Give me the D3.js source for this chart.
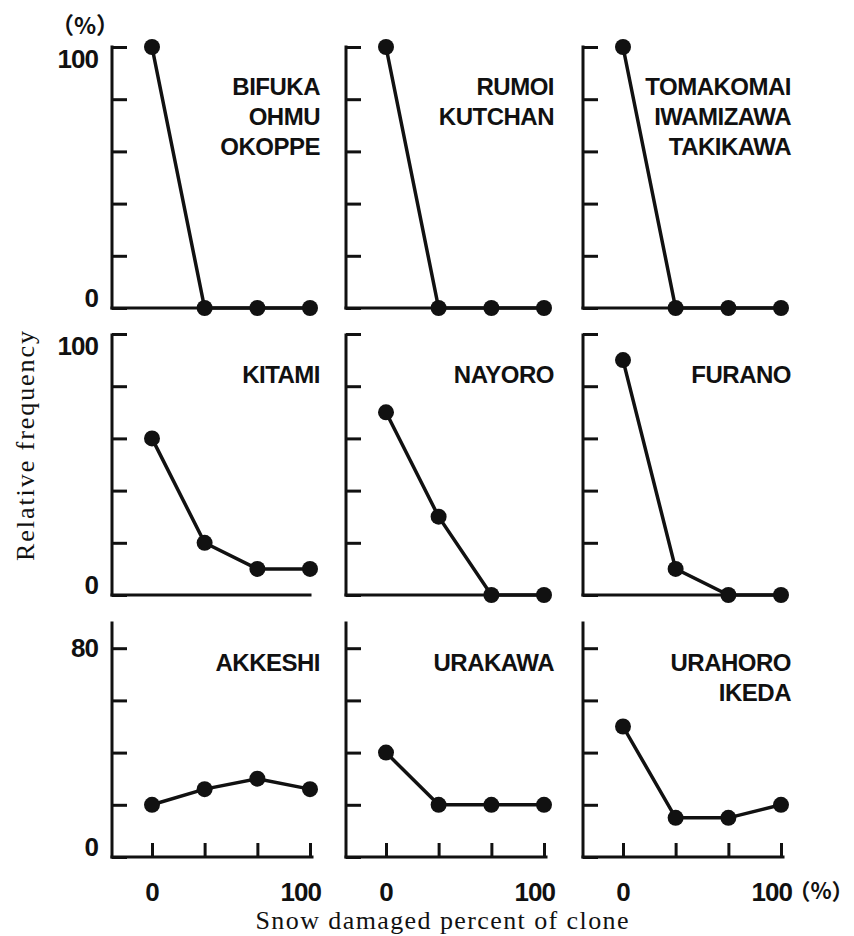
<!DOCTYPE html>
<html>
<head>
<meta charset="utf-8">
<script src="https://cdn.jsdelivr.net/npm/d3@7"></script>
<style>
  body { margin: 0; background: #fff; }
  text { fill: #111; }
</style>
</head>
<body>
<div id="chart"></div>
<script>
// damage classes (x positions of the four points), 0..100 %
const damageClasses = [0, 33.3, 66.7, 100];
const xTickLabels = [0, 100];

// panel titles, read row by row
const placeNames = [
  ["BIFUKA", "OHMU", "OKOPPE"],
  ["RUMOI", "KUTCHAN"],
  ["TOMAKOMAI", "IWAMIZAWA", "TAKIKAWA"],
  ["KITAMI"],
  ["NAYORO"],
  ["FURANO"],
  ["AKKESHI"],
  ["URAKAWA"],
  ["URAHORO", "IKEDA"]
];

// relative frequency (%) for each panel
const freqBifuka = [100, 0, 0, 0];
const freqRumoi = [100, 0, 0, 0];
const freqTomakomai = [100, 0, 0, 0];
const freqKitami = [60, 20, 10, 10];
const freqNayoro = [70, 30, 0, 0];
const freqFurano = [90, 10, 0, 0];
const freqAkkeshi = [20, 26, 30, 26];
const freqUrakawa = [40, 20, 20, 20];
const freqUrahoro = [50, 15, 15, 20];

const panelValues = [
  freqBifuka, freqRumoi, freqTomakomai,
  freqKitami, freqNayoro, freqFurano,
  freqAkkeshi, freqUrakawa, freqUrahoro
];

// y axis max per row and labelled ticks
const rowMax = [100, 100, 80];
const yTickLabels = [[0, 100], [0, 100], [0, 80]];

const width = 854, height = 936;

//layout of the grid
const axisX = [112, 346, 583];
const rowBottom = [308, 595, 857];
const rowTop = [47, 335, 623];
const pxPerUnit = 2.61;

const svg = d3.select("#chart")
  .append("svg")
  .attr("width", width)
  .attr("height", height)
  .style("background", "#fff");

const nameFont = "'Liberation Sans', Arial, sans-serif";

panelValues.forEach((vals, i) => {
  const row = Math.floor(i / 3), col = i % 3;
  const ax = axisX[col];

  const x = d3.scaleLinear().domain([0, 100]).range([ax + 40, ax + 198]);
  const y = d3.scaleLinear()
    .domain([0, rowMax[row]])
    .range([rowBottom[row], rowBottom[row] - rowMax[row] * pxPerUnit]);

  const g = svg.append("g");

  // y ticks pointing into the panel
  const yAxis = d3.axisRight(y)
    .tickValues(d3.range(0, rowMax[row] + 1, 20))
    .tickSize(15)
    .tickSizeOuter(0)
    .tickFormat("");
  const ya = g.append("g").attr("transform", `translate(${ax},0)`).call(yAxis);
  ya.select(".domain").remove();
  ya.selectAll("line").attr("stroke", "#111").attr("stroke-width", 3);

  // vertical axis line
  g.append("line")
    .attr("x1", ax).attr("x2", ax)
    .attr("y1", rowTop[row]).attr("y2", y(0))
    .attr("stroke", "#111").attr("stroke-width", 3)
    .attr("stroke-linecap", "square");

  // baseline
  g.append("line")
    .attr("x1", ax).attr("x2", x(100) + (row === 2 ? 2 : 0))
    .attr("y1", y(0)).attr("y2", y(0))
    .attr("stroke", "#111").attr("stroke-width", 3)
    .attr("stroke-linecap", "square");

  // x ticks only on the bottom row
  if (row === 2) {
    const xAxis = d3.axisTop(x)
      .tickValues(damageClasses)
      .tickSize(14)
      .tickSizeOuter(0)
      .tickFormat("");
    const xa = g.append("g").attr("transform", `translate(0,${y(0)})`).call(xAxis);
    xa.select(".domain").remove();
    xa.selectAll("line").attr("stroke", "#111").attr("stroke-width", 3);

    g.selectAll(".xlab")
      .data(xTickLabels)
      .enter()
      .append("text")
      .attr("class", "xlab")
      .attr("x", (d) => (d === 0 ? x(d) : x(d) + 11))
      .attr("y", 901)
      .attr("text-anchor", (d) => (d === 0 ? "middle" : "end"))
      .style("font-family", nameFont)
      .style("font-weight", "bold")
      .style("font-size", "26px")
      .style("letter-spacing", "-1px")
      .text((d) => d);
  }

  // y tick labels only in the first column
  if (col === 0) {
    g.selectAll(".ylab")
      .data(yTickLabels[row])
      .enter()
      .append("text")
      .attr("class", "ylab")
      .attr("x", ax - 14)
      .attr("y", (d) => {
        if (d === 0) return y(d) - 1;
        return row === 2 ? y(d) + 9 : y(d) + 21;
      })
      .attr("text-anchor", "end")
      .style("font-family", nameFont)
      .style("font-weight", "bold")
      .style("font-size", "26px")
      .style("letter-spacing", "-1px")
      .text((d) => d);
  }

  // the line and dots
  const lineFunc = d3.line()
    .x((d, k) => x(damageClasses[k]))
    .y((d) => y(d));

  g.append("path")
    .attr("d", lineFunc(vals))
    .attr("fill", "none")
    .attr("stroke", "#111")
    .attr("stroke-width", 3.5);

  g.selectAll(".dot")
    .data(vals)
    .enter()
    .append("circle")
    .attr("class", "dot")
    .attr("cx", (d, k) => x(damageClasses[k]))
    .attr("cy", (d) => y(d))
    .attr("r", 8)
    .attr("fill", "#111");

  // place names, right aligned
  g.selectAll(".name")
    .data(placeNames[i])
    .enter()
    .append("text")
    .attr("class", "name")
    .attr("x", ax + 208)
    .attr("y", (d, k) => rowTop[row] + 48 + k * 30)
    .attr("text-anchor", "end")
    .style("font-family", nameFont)
    .style("font-weight", "bold")
    .style("font-size", "24px")
    .style("letter-spacing", "-0.5px")
    .text((d) => d);
});

// unit marks
const unitFont = "'Noto Sans CJK JP', sans-serif";
svg.append("text")
  .attr("x", 85).attr("y", 34)
  .attr("text-anchor", "middle")
  .style("font-family", unitFont)
  .style("font-size", "23px")
  .style("font-weight", "bold")
  .text("（%）");

svg.append("text")
  .attr("x", 821).attr("y", 899)
  .attr("text-anchor", "middle")
  .style("font-family", unitFont)
  .style("font-size", "22px")
  .style("font-weight", "bold")
  .text("（%）");

// axis titles
svg.append("text")
  .attr("x", 442).attr("y", 929)
  .attr("text-anchor", "middle")
  .attr("textLength", 373)
  .attr("lengthAdjust", "spacing")
  .style("font-family", "'Liberation Serif', 'Times New Roman', serif")
  .style("font-size", "26px")
  .text("Snow damaged percent of clone");

svg.append("g")
  .attr("transform", "translate(34, 446)")
  .append("text")
  .attr("transform", "rotate(-90)")
  .attr("text-anchor", "middle")
  .attr("textLength", 230)
  .attr("lengthAdjust", "spacing")
  .style("font-family", "'Liberation Serif', 'Times New Roman', serif")
  .style("font-size", "26px")
  .text("Relative frequency");
</script>
</body>
</html>
